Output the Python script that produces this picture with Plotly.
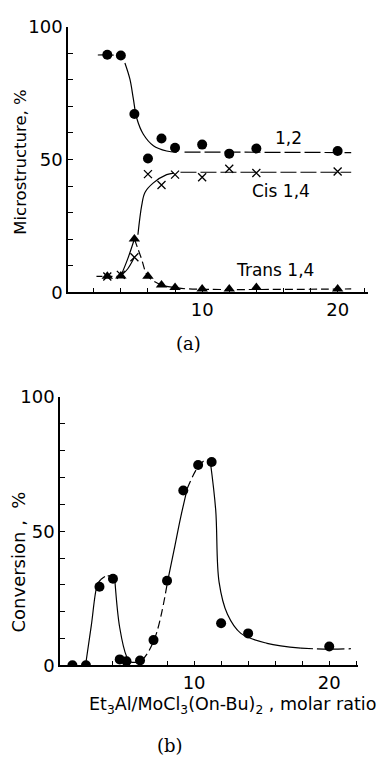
import plotly.graph_objects as go

# ---------------- data: panel (a) ----------------
ratio_a = [3, 4, 5, 6, 7, 8, 10, 12, 14, 20]
micro_12 = [89.4, 89.1, 67.1, 50.4, 57.9, 54.4, 55.6, 52.2, 54.1, 53.2]
micro_cis = [6.0, 6.6, 13.2, 44.5, 40.4, 44.3, 43.3, 46.5, 44.9, 45.5]
micro_trans = [6.1, 6.2, 20.1, 6.1, 2.8, 1.8, 1.3, 1.3, 1.8, 1.3]

# hand-drawn guide curves (x, y, dash)
curves_a = [
    ([2.3, 3.0, 4.0], [89.3, 89.3, 89.1], "6px,4px"),
    ([4.3, 4.67, 4.92, 5.17, 5.66, 6.4, 7.38, 8.12], [86.3, 80.2, 72.9, 65.6, 59.5, 55.2, 53.2, 52.7], "solid"),
    ([8.7, 21.0], [52.8, 52.6], "16px,4px"),
    ([2.2, 4.0], [6.0, 6.0], "6px,4px"),
    ([4.0, 4.5, 5.0], [6.2, 8.8, 13.2], "solid"),
    ([5.26, 5.54, 5.78, 6.4, 7.38, 7.9], [21.7, 32.7, 37.6, 41.2, 44.3, 44.9], "solid"),
    ([8.4, 21.0], [45.2, 45.2], "16px,4px"),
    ([4.0, 4.5, 5.0], [6.2, 12.5, 20.1], "solid"),
    ([5.0, 5.5, 6.0, 7.0, 8.0, 9.0, 21.0], [20.1, 13.0, 6.1, 2.8, 1.8, 1.3, 1.3], "8px,4px"),
]

# ---------------- data: panel (b) ----------------
ratio_b = [1, 2, 3, 4, 4.5, 5, 6, 7, 8, 9.2, 10.3, 11.3, 12, 14, 20]
conversion = [0, 0, 29.3, 32.3, 2.2, 1.5, 1.8, 9.4, 31.5, 65.2, 74.7, 75.8, 15.7, 11.9, 7.0]

curves_b = [
    ([1.98, 2.4, 2.84, 3.1], [0.4, 15, 30, 32], "solid"),
    ([3.1, 3.5, 3.95, 4.15], [32, 33.3, 33, 31], "5px,3px"),
    ([4.15, 4.5, 5.0, 5.3], [31, 14, 3.4, 1.2], "solid"),
    ([5.3, 6.05, 7.04, 8.03], [1.2, 1.6, 9.4, 31], "8px,4px"),
    ([8.03, 8.52, 9.0, 9.5], [31, 43, 55, 66], "solid"),
    ([9.5, 10.25, 10.87, 11.2], [66, 73.6, 76.6, 76], "8px,4px"),
    ([11.2, 11.6, 11.85, 12.47, 13.46, 15.4, 17.9], [76, 57.9, 31, 19, 11.9, 8.2, 6.4], "solid"),
    ([17.9, 20.0, 21.6], [6.4, 6.0, 6.2], "12px,4px"),
]

W, H = 382, 768
FONT = "DejaVu Sans"

fig = go.Figure()

for xs, ys, d in curves_a:
    fig.add_trace(go.Scatter(x=xs, y=ys, mode="lines", xaxis="x", yaxis="y",
                             line=dict(color="black", width=1.2, dash=d, shape="spline", smoothing=1.0),
                             showlegend=False, hoverinfo="skip"))
for xs, ys, d in curves_b:
    fig.add_trace(go.Scatter(x=xs, y=ys, mode="lines", xaxis="x2", yaxis="y2",
                             line=dict(color="black", width=1.2, dash=d, shape="spline", smoothing=1.0),
                             showlegend=False, hoverinfo="skip"))

fig.add_trace(go.Scatter(x=ratio_a, y=micro_12, mode="markers", xaxis="x", yaxis="y",
                         marker=dict(symbol="circle", size=10, color="black"), showlegend=False))
fig.add_trace(go.Scatter(x=ratio_a, y=micro_cis, mode="markers", xaxis="x", yaxis="y",
                         marker=dict(symbol="x-thin", size=8, color="black",
                                     line=dict(color="black", width=1.3)), showlegend=False))
fig.add_trace(go.Scatter(x=ratio_a, y=micro_trans, mode="markers", xaxis="x", yaxis="y",
                         marker=dict(symbol="triangle-up", size=10, color="black"), showlegend=False))
fig.add_trace(go.Scatter(x=ratio_b, y=conversion, mode="markers", xaxis="x2", yaxis="y2",
                         marker=dict(symbol="circle", size=10, color="black"), showlegend=False))

tickfont = dict(family=FONT, size=18, color="black")
common_x = dict(showline=True, linecolor="black", linewidth=1.5, showgrid=False, zeroline=False,
                ticks="inside", ticklen=5, tickcolor="black", tickwidth=1.2,
                tickvals=[10, 20], ticktext=["10", "20"], tickfont=tickfont,
                minor=dict(dtick=2, tick0=0, ticks="inside", ticklen=5, tickcolor="black",
                           tickwidth=1.2, showgrid=False))
common_y = dict(showline=True, linecolor="black", linewidth=1.5, showgrid=False, zeroline=False,
                ticks="inside", ticklen=5, tickcolor="black", tickwidth=1.2,
                tickvals=[0, 50, 100], ticktext=["0", "50", "100"], tickfont=tickfont,
                range=[0, 100],
                minor=dict(dtick=10, tick0=0, ticks="inside", ticklen=5, tickcolor="black",
                           tickwidth=1.2, showgrid=False))

fig.update_layout(
    width=W, height=H, margin=dict(l=0, r=0, t=0, b=0),
    paper_bgcolor="white", plot_bgcolor="white",
    xaxis=dict(domain=[68 / W, 368 / W], range=[0.1, 22.24], anchor="y", **common_x),
    yaxis=dict(domain=[1 - 289.3 / H, 1 - 16 / H], anchor="x", **common_y),
    xaxis2=dict(domain=[60 / W, 358.3 / W], range=[0.08, 22.15], anchor="y2", **common_x),
    yaxis2=dict(domain=[1 - 672.7 / H, 1 - 397 / H], anchor="x2", **common_y),
)

def ann(text, x, y, size=16, family=FONT, angle=0, xanchor="center"):
    fig.add_annotation(text=text, x=x / W, y=1 - y / H, xref="paper", yref="paper",
                       showarrow=False, textangle=angle, xanchor=xanchor, yanchor="middle",
                       font=dict(family=family, size=size, color="black"))

ann("Microstructure, %", 21, 156, size=16.5, angle=-90)
ann("Conversion ,  %", 18, 567, size=18, angle=-90)
ann("1,2", 288, 131, size=17)
ann("Cis 1,4", 281, 185, size=17)
ann("Trans 1,4", 275, 266, size=17)
ann("(a)", 188, 342, size=18, family="DejaVu Serif")
ann("(b)", 170, 755, size=18, family="DejaVu Serif")
ann("Et<sub>3</sub>Al/MoCl<sub>3</sub>(On-Bu)<sub>2</sub> , molar ratio", 87, 714, size=17.5, xanchor="left")

fig.write_html("out.html")
